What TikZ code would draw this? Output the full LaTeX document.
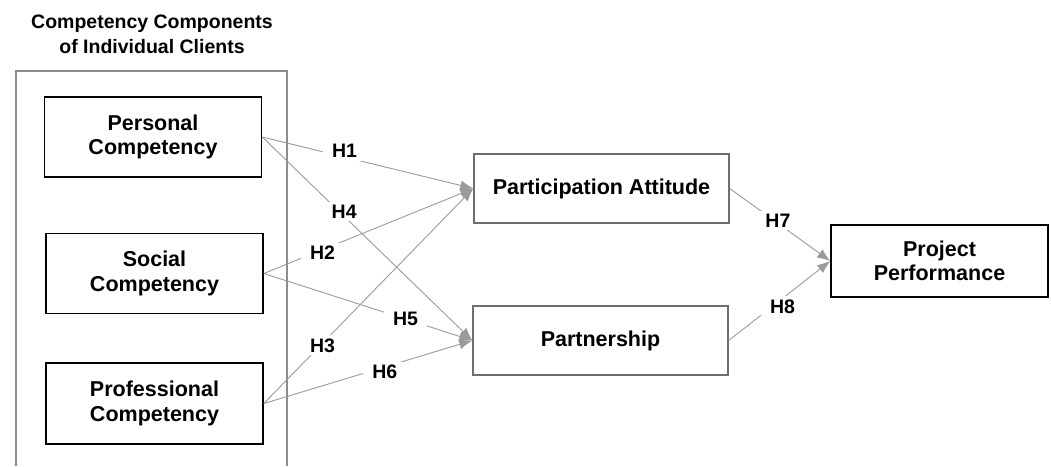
\documentclass[tikz,border=0pt]{standalone}
\usepackage{fontspec}
\setmainfont{Liberation Sans}
\usetikzlibrary{arrows.meta}
\usetikzlibrary{positioning}
\definecolor{FrameGray}{HTML}{8C8C8C}
\definecolor{LineGray}{HTML}{9A9A9A}
\definecolor{BoxGray}{HTML}{6E6E6E}
\tikzset{
  construct/.style={draw=black, line width=1.6pt, fill=white, inner sep=0pt,
    minimum width=217pt, minimum height=80pt, align=center,
    font=\fontsize{21.5}{24.5}\selectfont\bfseries},
  mediator/.style={construct, draw=BoxGray, line width=1.4pt,
    minimum width=255pt, minimum height=69pt},
  hypo/.style={draw=LineGray, line width=0.9pt,
    -{Latex[length=13pt,width=10pt,fill=LineGray]}},
  hlabel/.style={fill=white, inner xsep=9pt, inner ysep=3pt,
    font=\fontsize{19.5}{21}\selectfont\bfseries}
}

\begin{document}
\begin{tikzpicture}[x=1pt, y=-1pt]
  \useasboundingbox (0,0) rectangle (1051,466);

  % left frame, open at the bottom
  \draw[FrameGray, line width=1.2pt] (16,466) |- (287,71) -- (287,466);
  \node[align=center, font=\fontsize{19.5}{25}\selectfont\bfseries] (title) at (152,34)
    {Competency Components\\of Individual Clients};

  \node[construct] (personal) at (153,137) {Personal\\Competency};
  \node[construct] (social) at (154.5,273.5) {Social\\Competency};
  \node[construct, minimum height=81pt] (professional) at (154.5,403.5) {Professional\\Competency};

  \node[mediator] (attitude) at (601.5,188.5) {Participation Attitude};
  \node[mediator] (partner) at (600.5,340.5) {Partnership};

  \node[construct, minimum height=72pt] (performance) at (939.5,261) {Project\\Performance};

  \draw[hypo] (personal.east) -- node[hlabel, pos=0.39, yshift=6pt] (h1) {H1} (attitude.west);
  \draw[hypo] (personal.east) -- node[hlabel, pos=0.39, yshift=5pt] (h4) {H4} (partner.west);
  \draw[hypo] (social.east) -- node[hlabel, pos=0.28, yshift=-3pt] (h2) {H2} (attitude.west);
  \draw[hypo] (social.east) -- node[hlabel, pos=0.68] (h5) {H5} (partner.west);
  \draw[hypo] (professional.east) -- node[hlabel, pos=0.28, yshift=-2pt] (h3) {H3} (attitude.west);
  \draw[hypo] (professional.east) -- node[hlabel, pos=0.58, yshift=-5pt] (h6) {H6} (partner.west);
  \draw[hypo] (attitude.east) -- node[hlabel, pos=0.48, yshift=3pt] (h7) {H7} (performance.west);
  \draw[hypo] (partner.east) -- node[hlabel, pos=0.53, yshift=-8pt] (h8) {H8} (performance.west);
\end{tikzpicture}
\end{document}
